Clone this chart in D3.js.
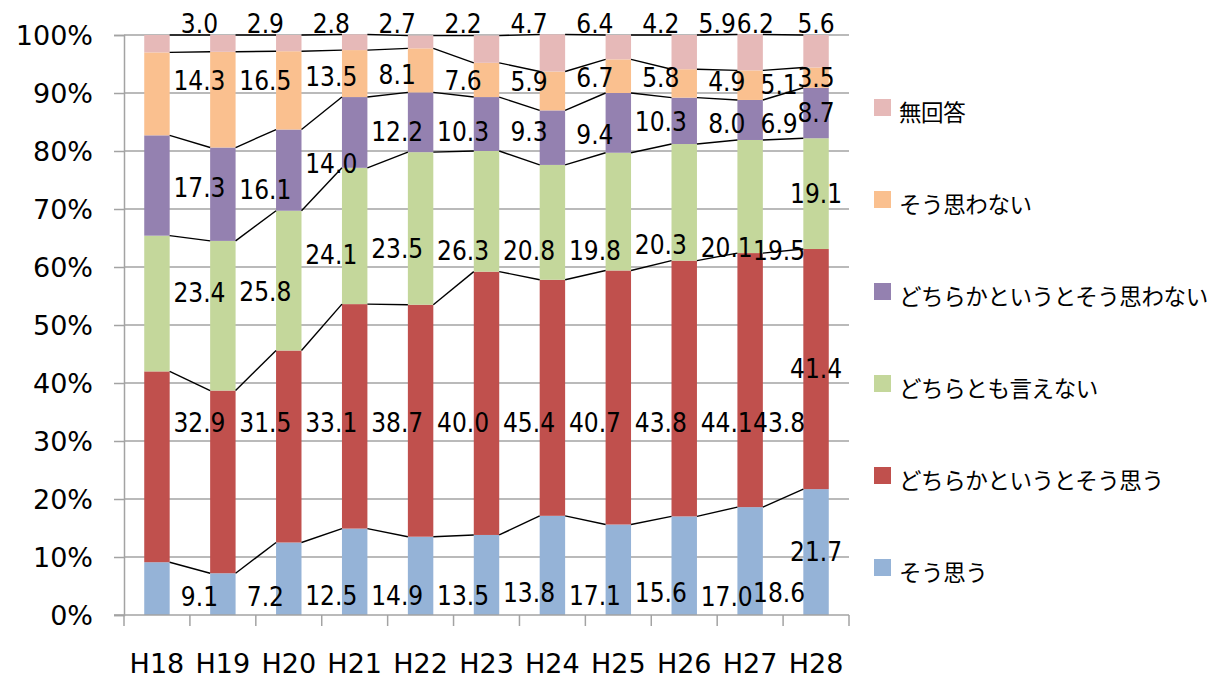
<!DOCTYPE html>
<html>
<head>
<meta charset="utf-8">
<script src="https://cdn.jsdelivr.net/npm/d3@7/dist/d3.min.js"></script>
<style>
  html, body { margin: 0; padding: 0; background: #fff; }
  svg { display: block; }
  .axis-label { font-family: "DejaVu Sans", Verdana, sans-serif; font-size: 27px; fill: #000; }
  .value-label { font-family: "DejaVu Sans Condensed", "DejaVu Sans", sans-serif; font-stretch: condensed; font-size: 26px; fill: #000; }
  .legend-label { font-family: "Noto Sans CJK JP", sans-serif; font-size: 22.5px; letter-spacing: -0.4px; fill: #000; }
</style>
</head>
<body>
<svg id="chart" width="1218" height="678"></svg>
<script>
// Survey years
const categories = ["H18", "H19", "H20", "H21", "H22", "H23", "H24", "H25", "H26", "H27", "H28"];

// Response shares (%) per year, bottom to top of each bar
const soOmou        = [9.1, 7.2, 12.5, 14.9, 13.5, 13.8, 17.1, 15.6, 17.0, 18.6, 21.7];
const dochiraOmou   = [32.9, 31.5, 33.1, 38.7, 40.0, 45.4, 40.7, 43.8, 44.1, 43.8, 41.4];
const dochiraTomo   = [23.4, 25.8, 24.1, 23.5, 26.3, 20.8, 19.8, 20.3, 20.1, 19.5, 19.1];
const dochiraOmowan = [17.3, 16.1, 14.0, 12.2, 10.3, 9.3, 9.4, 10.3, 8.0, 6.9, 8.7];
const omowanai      = [14.3, 16.5, 13.5, 8.1, 7.6, 5.9, 6.7, 5.8, 4.9, 5.1, 3.5];
const muKaito       = [3.0, 2.9, 2.8, 2.7, 2.2, 4.7, 6.4, 4.2, 5.9, 6.2, 5.6];

const seriesNames = ["そう思う", "どちらかというとそう思う", "どちらとも言えない",
                     "どちらかというとそう思わない", "そう思わない", "無回答"];
const seriesValues = [soOmou, dochiraOmou, dochiraTomo, dochiraOmowan, omowanai, muKaito];

const yTicks = [0, 10, 20, 30, 40, 50, 60, 70, 80, 90, 100];

// ---- styling / layout ----
const colors = ["#95B3D7", "#C0504D", "#C4D79B", "#9481B0", "#FAC08F", "#E6B9B8"];

// Data-label placement: vertical level (in % units) for each label; null = segment middle.
const labelLevel = [
  [3.1, 3.1, 3.4, 3.4, 3.4, 3.8, 3.4, 3.8, 3.1, 3.8, null],
  [33.1, 33.1, 33.1, 33.1, 33.1, 33.1, 33.1, 33.1, 33.1, 33.1, null],
  [55.5, 55.7, 62.1, 63.1, 62.9, 62.9, 62.9, 63.8, 63.4, 62.9, null],
  [73.6, 73.3, 77.9, 83.3, 83.3, 83.3, 82.8, 85.0, 84.8, 84.8, null],
  [92.2, 92.2, 92.8, 93.1, 92.2, 91.9, 92.6, 92.6, 91.9, 91.4, null],
  [101.9, 101.9, 101.9, 101.9, 101.9, 101.9, 101.9, 101.9, 101.9, 101.9, 101.9]
];
// Horizontal shift of labels from the bar centre, in category-step units
const labelShift = [0.645, 0.645, 0.645, 0.645, 0.645, 0.645, 0.645, 0.645, 0.645, 0.44, 0];
const topLabelShift = [0.645, 0.645, 0.645, 0.645, 0.645, 0.645, 0.645, 0.645, 0.5, 0.08, 0];

const plot = { left: 124, right: 849, top: 35, bottom: 615 };

const svg = d3.select("#chart");

// Table for the stack layout
const table = categories.map((c, i) => {
  const row = { cat: c };
  seriesNames.forEach((s, k) => { row[s] = seriesValues[k][i]; });
  return row;
});
const stacked = d3.stack().keys(seriesNames)(table);

const x = d3.scaleBand().domain(categories).range([plot.left, plot.right])
  .paddingInner(0.614).paddingOuter(0.307);
const y = d3.scaleLinear().domain([0, 100]).range([plot.bottom, plot.top]);
const step = x.step();

// Horizontal gridlines
svg.append("g")
  .selectAll("line")
  .data(yTicks.filter(t => t > 0))
  .join("line")
  .attr("x1", plot.left).attr("x2", plot.right)
  .attr("y1", d => y(d)).attr("y2", d => y(d))
  .attr("stroke", "#A3A3A3").attr("stroke-width", 1.5);

// Y axis
const yAxis = svg.append("g")
  .attr("transform", `translate(${plot.left},0)`)
  .call(d3.axisLeft(y).tickValues(yTicks).tickSize(10).tickPadding(21).tickFormat(d => d + "%"));
yAxis.select(".domain").attr("stroke", "#A3A3A3").attr("stroke-width", 1.5);
yAxis.selectAll(".tick line").attr("stroke", "#A3A3A3").attr("stroke-width", 1.5);
yAxis.selectAll(".tick text").attr("class", "axis-label").attr("dy", "0.36em");
yAxis.attr("font-size", null).attr("font-family", null);

// Bars
svg.append("g")
  .selectAll("g")
  .data(stacked)
  .join("g")
  .attr("fill", (d, k) => colors[k])
  .selectAll("rect")
  .data(d => d)
  .join("rect")
  .attr("x", d => x(d.data.cat))
  .attr("width", x.bandwidth())
  .attr("y", d => y(d[1]))
  .attr("height", d => y(d[0]) - y(d[1]));

// X axis (ticks between categories)
const xAxisG = svg.append("g").attr("transform", `translate(0,${plot.bottom})`);
xAxisG.append("line")
  .attr("x1", plot.left - 10).attr("x2", plot.right)
  .attr("y1", 0).attr("y2", 0)
  .attr("stroke", "#A3A3A3").attr("stroke-width", 1.5);
const boundaries = categories.map(c => x(c) - x.step() * x.paddingOuter())
  .concat([plot.right]);
xAxisG.selectAll("line.tk")
  .data(boundaries)
  .join("line")
  .attr("class", "tk")
  .attr("x1", d => d).attr("x2", d => d)
  .attr("y1", 0).attr("y2", 11)
  .attr("stroke", "#A3A3A3").attr("stroke-width", 1.5);
xAxisG.selectAll("text")
  .data(categories)
  .join("text")
  .attr("class", "axis-label")
  .attr("x", d => x(d) + x.bandwidth() / 2)
  .attr("y", 58)
  .attr("text-anchor", "middle")
  .text(d => d);

// Series lines joining segment tops of neighbouring bars
const lineG = svg.append("g").attr("stroke", "#000").attr("stroke-width", 1.4).attr("fill", "none");
stacked.forEach(layer => {
  for (let i = 0; i < layer.length - 1; i++) {
    lineG.append("line")
      .attr("x1", x(categories[i]) + x.bandwidth())
      .attr("y1", y(layer[i][1]))
      .attr("x2", x(categories[i + 1]))
      .attr("y2", y(layer[i + 1][1]));
  }
});

// Value labels
const labelG = svg.append("g");
stacked.forEach((layer, k) => {
  const shifts = k === stacked.length - 1 ? topLabelShift : labelShift;
  layer.forEach((seg, i) => {
    const lvl = labelLevel[k][i];
    const yy = lvl === null ? y((seg[0] + seg[1]) / 2) : y(lvl);
    labelG.append("text")
      .attr("class", "value-label")
      .attr("x", x(categories[i]) + x.bandwidth() / 2 + shifts[i] * step)
      .attr("y", yy)
      .attr("dy", "0.36em")
      .attr("text-anchor", "middle")
      .text(seriesValues[k][i].toFixed(1));
  });
});

// Legend (top entry is the top of the stack)
const legendOrder = d3.range(seriesNames.length).reverse();
const legend = svg.append("g").attr("transform", "translate(874,113)");
const item = legend.selectAll("g")
  .data(legendOrder)
  .join("g")
  .attr("transform", (d, j) => `translate(0,${j * 92})`);
item.append("rect")
  .attr("x", 0).attr("y", -14)
  .attr("width", 17).attr("height", 17)
  .attr("fill", d => colors[d]);
item.append("text")
  .attr("class", "legend-label")
  .attr("x", 25).attr("y", 0)
  .attr("dy", "0.36em")
  .text(d => seriesNames[d]);
</script>
</body>
</html>
